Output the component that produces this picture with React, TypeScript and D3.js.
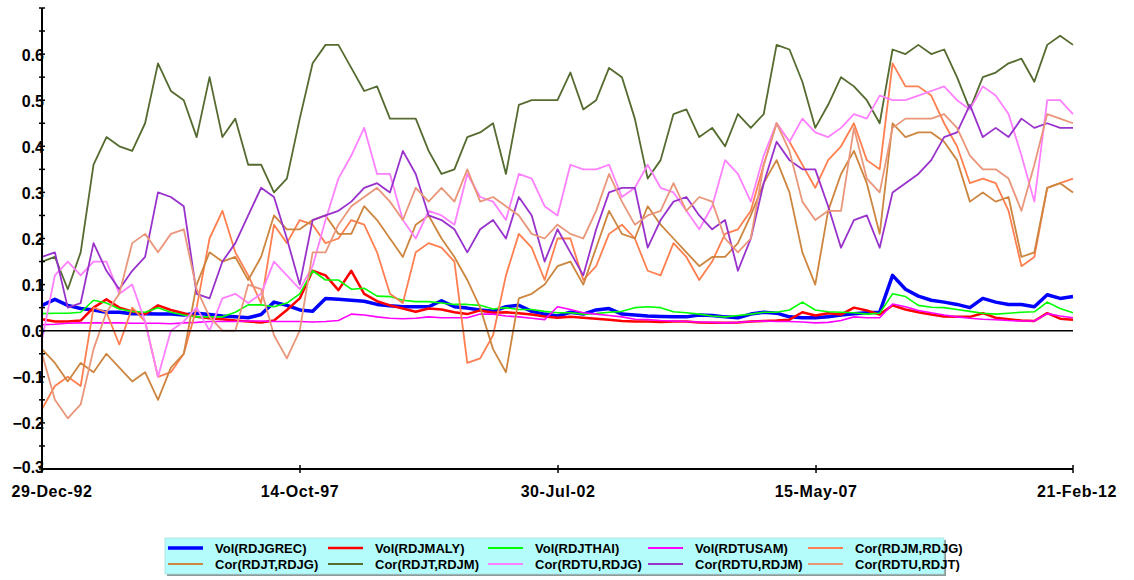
import React from "react";
import * as d3 from "d3";

// ---- data ----
const START = new Date(1992, 11, 29);
const END = new Date(2012, 1, 21);
const TICK_DATES = [
  new Date(1992, 11, 29),
  new Date(1997, 9, 14),
  new Date(2002, 6, 30),
  new Date(2007, 4, 15),
  new Date(2012, 1, 21),
];
const TICK_LABELS = ["29-Dec-92", "14-Oct-97", "30-Jul-02", "15-May-07", "21-Feb-12"];
const Y_LABELS = [-0.3, -0.2, -0.1, 0.0, 0.1, 0.2, 0.3, 0.4, 0.5, 0.6];
const Y_MINOR = [-0.3, -0.25, -0.2, -0.15, -0.1, -0.05, 0, 0.05, 0.1, 0.15, 0.2, 0.25, 0.3, 0.35, 0.4, 0.45, 0.5, 0.55, 0.6, 0.65, 0.7];

const volRDJGREC = [
  0.055, 0.068, 0.055, 0.048, 0.045, 0.040, 0.040, 0.037, 0.037, 0.036,
  0.036, 0.034, 0.038, 0.035, 0.032, 0.030, 0.028, 0.035, 0.062, 0.055,
  0.045, 0.042, 0.070, 0.068, 0.066, 0.064, 0.057, 0.054, 0.052, 0.052,
  0.052, 0.065, 0.052, 0.049, 0.045, 0.042, 0.052, 0.055, 0.042, 0.036,
  0.032, 0.040, 0.036, 0.045, 0.048, 0.036, 0.034, 0.032, 0.031, 0.030,
  0.030, 0.034, 0.033, 0.030, 0.028, 0.036, 0.040, 0.038, 0.030, 0.028,
  0.028, 0.030, 0.034, 0.037, 0.039, 0.040, 0.120, 0.090, 0.075, 0.066,
  0.062, 0.057, 0.050, 0.070, 0.062, 0.057, 0.057, 0.052, 0.078, 0.070,
  0.074,
];
const volRDJMALY = [
  0.025, 0.020, 0.020, 0.022, 0.050, 0.068, 0.050, 0.042, 0.036, 0.055,
  0.045, 0.038, 0.030, 0.027, 0.025, 0.022, 0.020, 0.018, 0.022, 0.045,
  0.070, 0.130, 0.120, 0.088, 0.130, 0.080, 0.064, 0.055, 0.048, 0.041,
  0.048, 0.046, 0.040, 0.036, 0.044, 0.039, 0.040, 0.038, 0.035, 0.031,
  0.028, 0.030, 0.028, 0.026, 0.024, 0.021, 0.020, 0.020, 0.019, 0.020,
  0.020, 0.018, 0.017, 0.017, 0.018, 0.020, 0.021, 0.022, 0.024, 0.040,
  0.033, 0.038, 0.035, 0.050, 0.044, 0.035, 0.055, 0.046, 0.040, 0.035,
  0.031, 0.030, 0.030, 0.038, 0.028, 0.025, 0.022, 0.021, 0.038, 0.026,
  0.024,
];
const volRDJTHAI = [
  0.037, 0.038, 0.038, 0.040, 0.066, 0.060, 0.047, 0.042, 0.040, 0.050,
  0.040, 0.034, 0.030, 0.030, 0.030, 0.040, 0.056, 0.056, 0.052, 0.060,
  0.080, 0.130, 0.110, 0.110, 0.090, 0.092, 0.075, 0.074, 0.066, 0.063,
  0.063, 0.060, 0.057, 0.057, 0.055, 0.047, 0.050, 0.046, 0.046, 0.042,
  0.039, 0.039, 0.036, 0.037, 0.040, 0.042, 0.050, 0.052, 0.050, 0.041,
  0.039, 0.036, 0.032, 0.030, 0.033, 0.036, 0.040, 0.040, 0.045, 0.062,
  0.045, 0.041, 0.040, 0.039, 0.036, 0.038, 0.080, 0.074, 0.055, 0.051,
  0.050, 0.046, 0.042, 0.038, 0.036, 0.038, 0.040, 0.041, 0.062, 0.048,
  0.039,
];
const volRDTUSAM = [
  0.013, 0.014, 0.016, 0.017, 0.017, 0.017, 0.017, 0.016, 0.016, 0.016,
  0.015, 0.017, 0.018, 0.020, 0.020, 0.020, 0.021, 0.021, 0.020, 0.020,
  0.020, 0.019, 0.020, 0.022, 0.036, 0.034, 0.030, 0.027, 0.026, 0.027,
  0.030, 0.028, 0.028, 0.028, 0.036, 0.036, 0.032, 0.030, 0.027, 0.024,
  0.052, 0.046, 0.039, 0.036, 0.033, 0.030, 0.025, 0.024, 0.022, 0.021,
  0.020, 0.019, 0.018, 0.017, 0.018, 0.020, 0.021, 0.020, 0.020, 0.019,
  0.017, 0.018, 0.022, 0.030, 0.028, 0.028, 0.058, 0.052, 0.044, 0.039,
  0.034, 0.030, 0.027, 0.025, 0.024, 0.022, 0.021, 0.021, 0.037, 0.032,
  0.028,
];
const corRDJM_RDJG = [
  -0.17, -0.12, -0.10, -0.12, 0.05, 0.04, -0.03, 0.05, 0.02, -0.10,
  -0.09, -0.05, 0.05, 0.20, 0.26, 0.17, 0.12, 0.06, 0.23, 0.19,
  0.24, 0.23, 0.19, 0.20, 0.24, 0.23, 0.17, 0.08, 0.06, 0.17,
  0.19, 0.18, 0.15, -0.07, -0.06, -0.01, 0.12, 0.21, 0.18, 0.11,
  0.20, 0.20, 0.11, 0.14, 0.21, 0.23, 0.20, 0.13, 0.12, 0.19,
  0.16, 0.11, 0.15, 0.21, 0.22, 0.26, 0.36, 0.45, 0.41, 0.36,
  0.31, 0.37, 0.40, 0.45, 0.37, 0.35, 0.58, 0.53, 0.53, 0.51,
  0.45, 0.40, 0.32, 0.33, 0.32, 0.26, 0.14, 0.16, 0.31, 0.32,
  0.33,
];
const corRDJT_RDJG = [
  -0.04, -0.07, -0.11, -0.07, -0.09, -0.05, -0.08, -0.11, -0.09, -0.15,
  -0.08, -0.05, 0.10, 0.17, 0.15, 0.16, 0.11, 0.16, 0.25, 0.22,
  0.22, 0.24, 0.25, 0.21, 0.21, 0.27, 0.24, 0.20, 0.16, 0.23,
  0.25, 0.20, 0.16, 0.11, 0.05, -0.04, -0.09, 0.07, 0.08, 0.10,
  0.14, 0.15, 0.10, 0.18, 0.26, 0.21, 0.20, 0.27, 0.23, 0.20,
  0.17, 0.14, 0.16, 0.16, 0.19, 0.25, 0.32, 0.37, 0.30, 0.17,
  0.10, 0.26, 0.34, 0.39, 0.32, 0.21, 0.45, 0.42, 0.43, 0.43,
  0.41, 0.37, 0.28, 0.30, 0.28, 0.29, 0.16, 0.17, 0.31, 0.32,
  0.30,
];
const corRDJT_RDJM = [
  0.15, 0.16, 0.09, 0.17, 0.36, 0.42, 0.40, 0.39, 0.45, 0.58,
  0.52, 0.50, 0.42, 0.55, 0.42, 0.46, 0.36, 0.36, 0.30, 0.33,
  0.46, 0.58, 0.62, 0.62, 0.57, 0.52, 0.53, 0.46, 0.46, 0.46,
  0.39, 0.34, 0.35, 0.42, 0.43, 0.45, 0.34, 0.49, 0.50, 0.50,
  0.50, 0.56, 0.48, 0.50, 0.57, 0.55, 0.46, 0.33, 0.37, 0.47,
  0.48, 0.42, 0.44, 0.40, 0.47, 0.44, 0.47, 0.62, 0.61, 0.54,
  0.44, 0.49, 0.55, 0.53, 0.50, 0.45, 0.61, 0.60, 0.62, 0.60,
  0.61, 0.55, 0.48, 0.55, 0.56, 0.58, 0.59, 0.54, 0.62, 0.64,
  0.62,
];
const corRDTU_RDJG = [
  -0.02, 0.12, 0.15, 0.12, 0.15, 0.15, 0.08, 0.10, 0.02, -0.10,
  0.00, 0.02, 0.05, 0.00, 0.07, 0.08, 0.06, 0.08, 0.15, 0.12,
  0.09, 0.14, 0.24, 0.33, 0.38, 0.44, 0.34, 0.34, 0.24, 0.20,
  0.26, 0.25, 0.23, 0.34, 0.29, 0.28, 0.24, 0.34, 0.33, 0.27,
  0.25, 0.36, 0.35, 0.35, 0.36, 0.29, 0.31, 0.36, 0.31, 0.30,
  0.26, 0.22, 0.27, 0.37, 0.34, 0.28, 0.38, 0.45, 0.41, 0.46,
  0.43, 0.42, 0.44, 0.47, 0.46, 0.51, 0.50, 0.50, 0.51, 0.52,
  0.53, 0.50, 0.48, 0.53, 0.51, 0.47, 0.38, 0.28, 0.50, 0.50,
  0.47,
];
const corRDTU_RDJM = [
  0.16, 0.17, 0.05, 0.06, 0.19, 0.13, 0.09, 0.13, 0.16, 0.30,
  0.29, 0.27, 0.08, 0.07, 0.15, 0.19, 0.25, 0.31, 0.29, 0.20,
  0.10, 0.24, 0.25, 0.26, 0.28, 0.31, 0.32, 0.30, 0.39, 0.34,
  0.25, 0.24, 0.22, 0.17, 0.22, 0.24, 0.20, 0.29, 0.25, 0.15,
  0.22, 0.17, 0.12, 0.22, 0.30, 0.31, 0.31, 0.18, 0.24, 0.28,
  0.29, 0.25, 0.22, 0.24, 0.13, 0.20, 0.32, 0.41, 0.37, 0.35,
  0.35, 0.27, 0.18, 0.24, 0.25, 0.18, 0.30, 0.32, 0.34, 0.37,
  0.42, 0.43, 0.49, 0.42, 0.44, 0.42, 0.46, 0.44, 0.45, 0.44,
  0.44,
];
const corRDTU_RDJT = [
  -0.05, -0.15, -0.19, -0.16, -0.04, 0.04, 0.08, 0.19, 0.21, 0.17,
  0.21, 0.22, 0.09, 0.03, 0.00, 0.00, 0.10, 0.09, -0.01, -0.06,
  0.00, 0.17, 0.17, 0.23, 0.27, 0.29, 0.31, 0.28, 0.24, 0.31,
  0.28, 0.31, 0.28, 0.35, 0.28, 0.29, 0.27, 0.25, 0.21, 0.20,
  0.23, 0.21, 0.20, 0.26, 0.34, 0.28, 0.23, 0.25, 0.26, 0.32,
  0.26, 0.29, 0.28, 0.20, 0.17, 0.20, 0.36, 0.45, 0.39, 0.28,
  0.24, 0.26, 0.26, 0.44, 0.33, 0.30, 0.44, 0.46, 0.46, 0.46,
  0.47, 0.44, 0.38, 0.35, 0.35, 0.33, 0.26, 0.36, 0.47, 0.46,
  0.45,
];

const SERIES = [
  { name: "Vol(RDJGREC)", values: volRDJGREC, color: "#0000ff", width: 3.5 },
  { name: "Vol(RDJMALY)", values: volRDJMALY, color: "#ff0000", width: 2.5 },
  { name: "Vol(RDJTHAI)", values: volRDJTHAI, color: "#00ff00", width: 1.6 },
  { name: "Vol(RDTUSAM)", values: volRDTUSAM, color: "#ff00ff", width: 1.6 },
  { name: "Cor(RDJM,RDJG)", values: corRDJM_RDJG, color: "#ff7f50", width: 1.8 },
  { name: "Cor(RDJT,RDJG)", values: corRDJT_RDJG, color: "#cd853f", width: 1.8 },
  { name: "Cor(RDJT,RDJM)", values: corRDJT_RDJM, color: "#556b2f", width: 1.8 },
  { name: "Cor(RDTU,RDJG)", values: corRDTU_RDJG, color: "#ff80ff", width: 1.8 },
  { name: "Cor(RDTU,RDJM)", values: corRDTU_RDJM, color: "#9932cc", width: 1.8 },
  { name: "Cor(RDTU,RDJT)", values: corRDTU_RDJT, color: "#e9967a", width: 1.8 },
];

const N = volRDJGREC.length;
const DATES = d3.range(N).map((i) => new Date(+START + (i * (+END - +START)) / (N - 1)));

export default function App() {
  const W = 1134;
  const H = 580;
  const left = 42;
  const right = 1073;
  const top = 8;
  const bottom = 469;
  const x = d3.scaleTime().domain([START, END]).range([left, right]);
  const y = d3.scaleLinear().domain([-0.3, 0.7]).range([bottom, top]);
  const fmt = d3.format(".1f");
  const font = "'Liberation Sans', Arial, Helvetica, sans-serif";

  const line = d3
    .line<number>()
    .x((_, i) => x(DATES[i]))
    .y((v) => y(v));

  const legendX = 165;
  const legendY = 538;
  const legendW = 779;
  const legendH = 36;
  const colW = 160;

  return (
    <svg
      width={W}
      height={H}
      style={{ position: "absolute", left: 0, top: 0, background: "#fff" }}
      fontFamily={font}
    >
      {/* series */}
      {SERIES.map((s) => (
        <path
          key={s.name}
          d={line(s.values) || ""}
          fill="none"
          stroke={s.color}
          strokeWidth={s.width}
          strokeLinejoin="round"
        />
      ))}
      {/* zero line */}
      <line x1={left} x2={right} y1={y(0)} y2={y(0)} stroke="#000" strokeWidth={1.6} />

      {/* y axis */}
      <line x1={left} x2={left} y1={top} y2={bottom} stroke="#000" strokeWidth={2} />
      {Y_MINOR.map((v) => (
        <line key={"m" + v} x1={left - 3} x2={left + 3} y1={y(v)} y2={y(v)} stroke="#000" strokeWidth={1.5} />
      ))}
      {Y_LABELS.map((v) => (
        <text
          key={"l" + v}
          x={left + 2}
          y={v === -0.3 ? y(v) - 2 : y(v) + 1}
          textAnchor="end"
          dominantBaseline="central"
          fontSize={16}
          fontWeight="bold"
          fill="#000"
        >
          {fmt(v)}
        </text>
      ))}

      {/* x axis */}
      <line x1={left} x2={right} y1={bottom} y2={bottom} stroke="#000" strokeWidth={2} />
      {TICK_DATES.map((d, i) => (
        <g key={"t" + i}>
          <line x1={x(d)} x2={x(d)} y1={bottom - 4} y2={bottom + 4} stroke="#000" strokeWidth={1.5} />
          <text
            x={i === 0 ? x(d) + 10 : i === TICK_DATES.length - 1 ? x(d) + 4 : x(d)}
            y={497}
            textAnchor="middle"
            fontSize={16}
            fontWeight="bold"
            letterSpacing={0.6}
            fill="#000"
          >
            {TICK_LABELS[i]}
          </text>
        </g>
      ))}

      {/* legend */}
      <rect x={legendX + 2} y={legendY + 2} width={legendW} height={legendH} fill="#8c9a9a" />
      <rect x={legendX} y={legendY} width={legendW} height={legendH} fill="#b4fcfc" stroke="#a9dede" strokeWidth={0.8} />
      {SERIES.map((s, i) => {
        const col = i % 5;
        const row = Math.floor(i / 5);
        const lx = legendX + 3 + col * colW;
        const ly = legendY + 10 + row * 16;
        return (
          <g key={"lg" + s.name}>
            <line
              x1={lx}
              x2={lx + 35}
              y1={ly}
              y2={ly}
              stroke={s.color}
              strokeWidth={i === 0 ? 3.5 : i === 1 ? 2.5 : 2}
            />
            <text x={lx + 47} y={ly + 5} fontSize={13} fontWeight="bold" fill="#000">
              {s.name}
            </text>
          </g>
        );
      })}
    </svg>
  );
}
